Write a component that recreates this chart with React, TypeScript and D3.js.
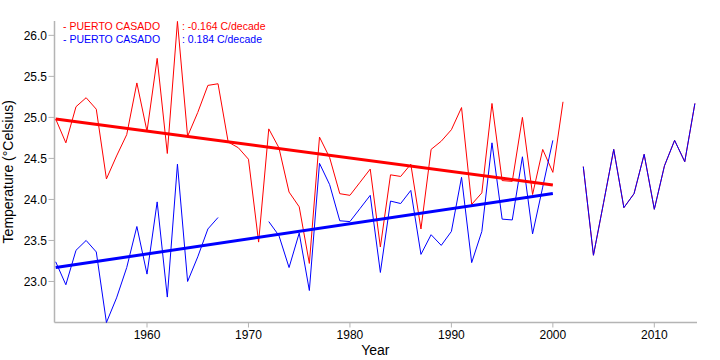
import React from "react";
import * as d3 from "d3";

const years: number[] = d3.range(1951, 2015);

const redValues: (number | null)[] = [
  24.98, 24.69, 25.13, 25.24, 25.1, 24.25, 24.53, 24.79, 25.42, 24.83,
  25.72, 24.56, 26.17, 24.77, 25.06, 25.39, 25.41, 24.7, 24.63, 24.49,
  23.48, 24.86, 24.63, 24.09, 23.91, 23.22, 24.76, 24.51, 24.07, 24.05,
  24.21, 24.37, 23.42, 24.3, 24.28, 24.43, 23.64, 24.61, 24.71, 24.85,
  25.12, 23.94, 24.08, 25.17, 24.23, 24.22, 25.0, 24.06, 24.61, 24.33,
  25.19, null, 24.4, 23.32, 23.96, 24.61, 23.9, 24.07, 24.55, 23.88,
  24.41, 24.72, 24.46, 25.17,
];

const blueValues: (number | null)[] = [
  23.24, 22.96, 23.38, 23.5, 23.36, 22.5, 22.8, 23.17, 23.67, 23.09,
  23.97, 22.81, 24.43, 23.0, 23.3, 23.64, 23.78, null, null, null,
  null, 23.73, 23.56, 23.17, 23.59, 22.89, 24.44, 24.18, 23.74, 23.73,
  23.89, 24.05, 23.11, 23.98, 23.95, 24.11, 23.33, 23.57, 23.44, 23.61,
  24.27, 23.23, 23.61, 24.69, 23.76, 23.75, 24.52, 23.58, 24.15, 24.72,
  null, null, 24.4, 23.32, 23.96, 24.61, 23.9, 24.07, 24.55, 23.88,
  24.41, 24.72, 24.46, 25.17,
];

const seriesNames = ["PUERTO CASADO", "PUERTO CASADO"];
const seriesColors = ["#ff0000", "#0000ff"];
const trendLabels = ["-0.164 C/decade", "0.184 C/decade"];
const trendStart = [24.98, 23.17];
const trendSlopePerYear = [-0.0164, 0.0184];
const trendYears = [1951, 2000];

const xTicks = [1960, 1970, 1980, 1990, 2000, 2010];
const yTicks = [23.0, 23.5, 24.0, 24.5, 25.0, 25.5, 26.0];

const FONT = "'Liberation Sans', Arial, sans-serif";

export default function App() {
  const W = 720;
  const H = 360;
  const left = 55.7;
  const right = 694.9;
  const top = 21;
  const bottom = 322.5;

  const x = d3.scaleLinear().domain([1951, 2014]).range([left, right]);
  const y = d3.scaleLinear().domain([22.5, 26.175]).range([bottom, top]);

  const line = d3
    .line<{ yr: number; v: number | null }>()
    .defined((d) => d.v !== null)
    .x((d) => x(d.yr))
    .y((d) => y(d.v as number));

  const series = [redValues, blueValues].map((vals) =>
    years.map((yr, i) => ({ yr, v: vals[i] }))
  );

  const axisColor = "#b4b4b4";
  const axisX = 54.5;

  return (
    <svg
      width={W}
      height={H}
      style={{ position: "absolute", left: 0, top: 0, background: "#fff" }}
      fontFamily={FONT}
    >
      <rect x={0} y={0} width={W} height={H} fill="#fff" />
      {/* axes */}
      <line x1={axisX} x2={axisX} y1={top} y2={bottom} stroke={axisColor} strokeWidth={1.5} />
      <line x1={axisX} x2={697} y1={bottom} y2={bottom} stroke={axisColor} strokeWidth={1.5} />
      {yTicks.map((t) => (
        <g key={"y" + t}>
          <line x1={48.5} x2={axisX} y1={y(t)} y2={y(t)} stroke={axisColor} strokeWidth={1} />
          <text x={47} y={y(t)} dy="0.35em" textAnchor="end" fontSize={12} fill="#000">
            {t.toFixed(1)}
          </text>
        </g>
      ))}
      {xTicks.map((t) => (
        <g key={"x" + t}>
          <line x1={x(t)} x2={x(t)} y1={bottom} y2={bottom + 5} stroke={axisColor} strokeWidth={1} />
          <text x={x(t)} y={339} textAnchor="middle" fontSize={12} fill="#000">
            {t}
          </text>
        </g>
      ))}
      <text x={(left + right) / 2} y={355} textAnchor="middle" fontSize={14} fill="#000">
        Year
      </text>
      <text
        transform={`translate(13,${(top + bottom) / 2}) rotate(-90)`}
        textAnchor="middle"
        fontSize={14}
        fill="#000"
      >
        Temperature (°Celsius)
      </text>

      {/* data lines */}
      {series.map((s, i) => (
        <path key={"s" + i} d={line(s) || ""} fill="none" stroke={seriesColors[i]} strokeWidth={1} />
      ))}

      {/* trend lines */}
      {trendStart.map((b, i) => (
        <line
          key={"t" + i}
          x1={x(trendYears[0])}
          y1={y(b)}
          x2={x(trendYears[1])}
          y2={y(b + trendSlopePerYear[i] * (trendYears[1] - trendYears[0]))}
          stroke={seriesColors[i]}
          strokeWidth={3}
        />
      ))}

      {/* legend */}
      {seriesNames.map((n, i) => (
        <g key={"l" + i} fill={seriesColors[i]} fontSize={10.5}>
          <text x={63} y={30 + i * 12.5}>{"- " + n}</text>
          <text x={182} y={30 + i * 12.5}>{": " + trendLabels[i]}</text>
        </g>
      ))}
    </svg>
  );
}
